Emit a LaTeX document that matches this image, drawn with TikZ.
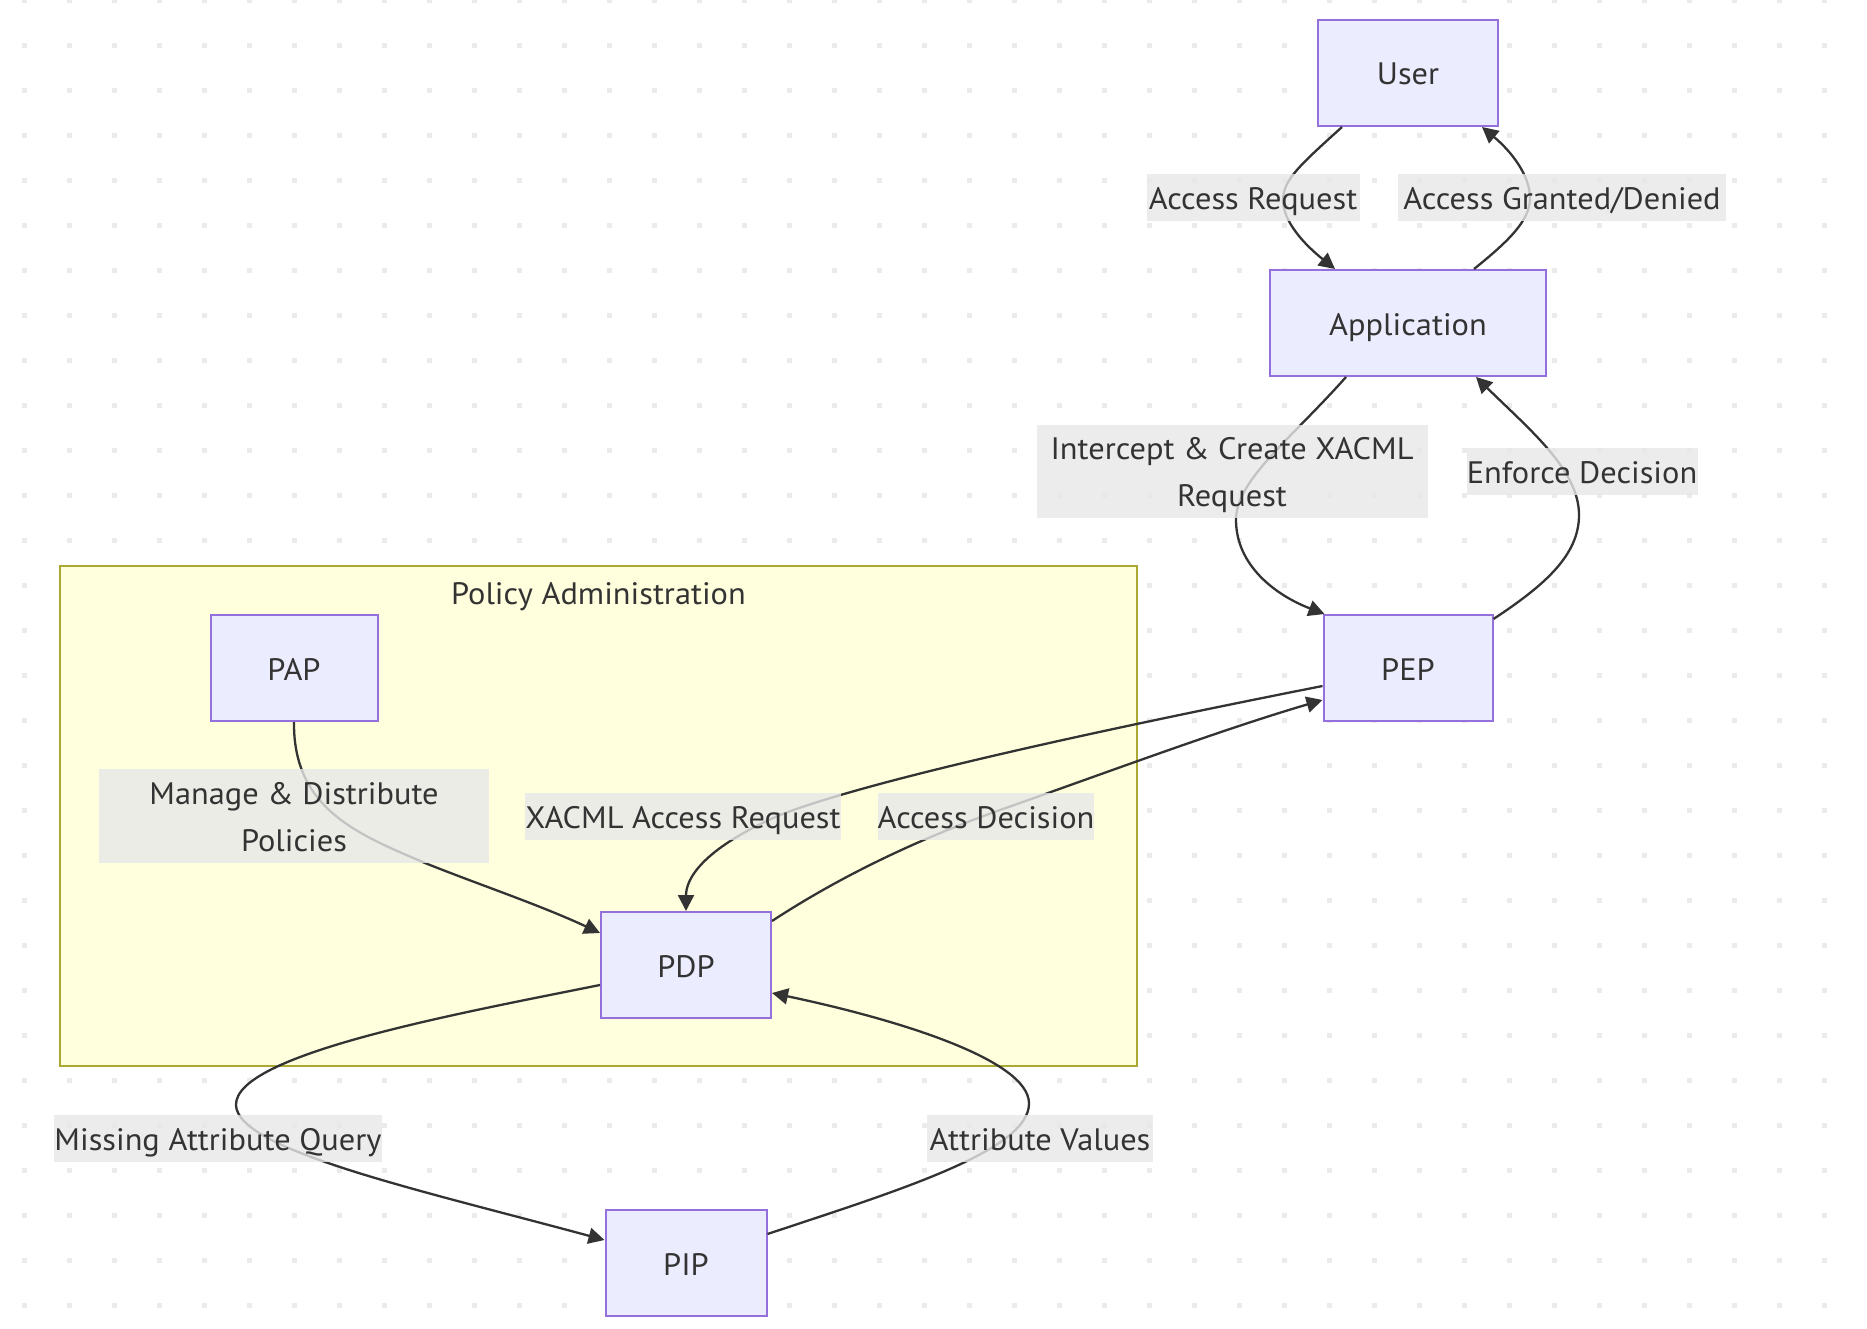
\documentclass[tikz,border=0pt]{standalone}
\usepackage{fontspec}
\setmainfont[FakeStretch=1.045]{PT Sans}
\usetikzlibrary{arrows.meta,calc}
\definecolor{nodefill}{HTML}{ECECFF}
\definecolor{nodestroke}{HTML}{9370DB}
\definecolor{clusterfill}{HTML}{FFFFDE}
\definecolor{clusterstroke}{HTML}{AAAA33}
\definecolor{edgec}{HTML}{333333}
\definecolor{lblfill}{HTML}{E8E8E8}
\definecolor{txtc}{HTML}{333333}
\definecolor{dotc}{HTML}{EBEBEB}
\tikzset{
  box/.style={draw=nodestroke, fill=nodefill, line width=2pt, minimum height=106pt, inner sep=0pt, text=txtc, font=\fontsize{31}{47}\selectfont, text height=24pt, text depth=0pt},
  elabel/.style={fill=lblfill, fill opacity=0.8, text opacity=1, inner sep=0pt, minimum height=47pt, text=txtc, align=center, font=\fontsize{31}{47}\selectfont, text height=24pt, text depth=0pt},
  elabeltwo/.style={elabel, text height=71pt, text depth=0pt},
  conn/.style={draw=edgec, line width=2.3pt, -{Triangle[length=16pt,width=16pt]}},
  clusterbox/.style={draw=clusterstroke, fill=clusterfill, line width=2pt, inner sep=0pt},
}
\begin{document}
\begin{tikzpicture}[x=1pt,y=-1pt]
\useasboundingbox (0,0) rectangle (1867,1329);
\fill[white] (0,0) rectangle (1867,1329);
% dot grid background
\foreach \i in {0,...,41}{
  \foreach \j in {0,...,29}{
    \fill[dotc] ({22+45*\i},{-2+45*\j}) rectangle ++(5,5);
  }
}
% cluster
\node[clusterbox, minimum width=1077pt, minimum height=500pt] (cluster) at (598.5,816) {};
\node[text=txtc, inner sep=0pt, font=\fontsize{31}{47}\selectfont, text height=24pt, text depth=0pt] (clustertitle) at (598.5,592) {Policy Administration};
% nodes
\node[box, minimum width=180pt] (user) at (1408,73) {User};
\node[box, minimum width=276pt] (app) at (1408,323) {Application};
\node[box, minimum width=169pt] (pep) at (1408,668) {PEP};
\node[box, minimum width=167pt] (pap) at (294,668) {PAP};
\node[box, minimum width=170pt] (pdp) at (686,965) {PDP};
\node[box, minimum width=161pt] (pip) at (686,1263) {PIP};
% edges
\draw[conn] ($(user.south)+(-66,0)$) .. controls (1300,165) and (1283,180) .. (1283,200) .. controls (1283,222) and (1305,245) .. ($(app.north)+(-73,0)$);
\draw[conn] ($(app.north)+(66,0)$) .. controls (1510,240) and (1530,220) .. (1530,198) .. controls (1530,176) and (1512,152) .. ($(user.south)+(74,0)$);
\draw[conn] ($(app.south)+(-62,0)$) .. controls (1290,440) and (1236,480) .. (1236,520) .. controls (1236,565) and (1275,595) .. ($(pep.north west)+(2,0)$);
\draw[conn] ($(pep.north east)+(0,5)$) .. controls (1545,585) and (1579,555) .. (1579,515) .. controls (1579,470) and (1530,430) .. ($(app.south)+(68,0)$);
\draw[conn] (pap.south) .. controls (293,810) and (360,835) .. (425,863) .. controls (480,885) and (540,905) .. ($(pdp.west)+(0,-32)$);
\draw[conn] ($(pep.west)+(0,18)$) .. controls (1100,730) and (870,780) .. (780,815) .. controls (700,850) and (686,880) .. (pdp.north);
\draw[conn] ($(pdp.north east)+(0,10)$) .. controls (850,870) and (930,835) .. (1000,810) .. controls (1100,775) and (1220,730) .. ($(pep.west)+(0,32)$);
\draw[conn] ($(pdp.west)+(0,20)$) .. controls (450,1015) and (235,1055) .. (236,1105) .. controls (237,1150) and (420,1190) .. ($(pip.west)+(0,-23)$);
\draw[conn] ($(pip.east)+(0,-29)$) .. controls (900,1190) and (1030,1150) .. (1029,1103) .. controls (1028,1060) and (900,1020) .. ($(pdp.east)+(0,28)$);
% edge labels
\node[elabel, minimum width=213pt] (l1) at (1253,198) {Access Request};
\node[elabel, minimum width=328pt] (l2) at (1562,198) {Access Granted/Denied};
\node[elabeltwo, minimum width=391pt, minimum height=93pt] (l3) at (1232,471) {Intercept \& Create XACML\\Request};
\node[elabel, minimum width=231pt] (l4) at (1582,471) {Enforce Decision};
\node[elabeltwo, minimum width=390pt, minimum height=94pt] (l5) at (294,816) {Manage \& Distribute\\Policies};
\node[elabel, minimum width=311pt] (l6) at (683,816) {XACML Access Request};
\node[elabel, minimum width=216pt] (l7) at (986,816) {Access Decision};
\node[elabel, minimum width=325pt] (l8) at (218,1138) {Missing Attribute Query};
\node[elabel, minimum width=226pt] (l9) at (1040,1138) {Attribute Values};
\end{tikzpicture}
\end{document}
